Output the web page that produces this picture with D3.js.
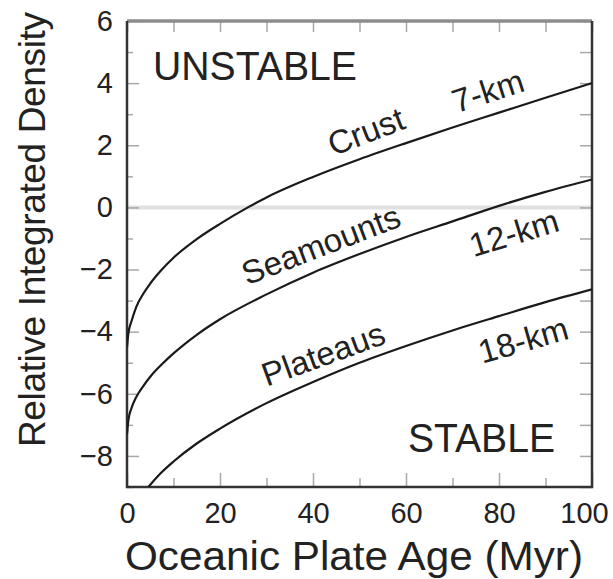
<!DOCTYPE html>
<html>
<head>
<meta charset="utf-8">
<script src="https://cdn.jsdelivr.net/npm/d3@7"></script>
<style>
  html, body { margin: 0; padding: 0; background: #fff; }
  svg { display: block; font-family: "Liberation Sans", Arial, Helvetica, sans-serif; }
</style>
</head>
<body>
<div id="chart"></div>
<script>
// values (age in Myr, relative integrated density)
const crustAge = [0, 0.3, 1, 2, 3.5, 5, 7.5, 10, 15, 20, 26, 30, 40, 50, 60, 70, 80, 90, 100];
const crustDensity = [-4.5, -4.05, -3.65, -3.2, -2.78, -2.45, -2.0, -1.62, -1.02, -0.53, 0.0, 0.32, 0.98, 1.55, 2.07, 2.57, 3.05, 3.53, 4.0];

const seamountAge = [0, 0.3, 1, 2, 3.5, 5, 7.5, 10, 15, 20, 30, 40, 50, 60, 70, 80, 90, 100];
const seamountDensity = [-7.3, -6.85, -6.45, -6.1, -5.75, -5.45, -5.05, -4.7, -4.1, -3.6, -2.8, -2.1, -1.5, -0.95, -0.45, 0.05, 0.5, 0.9];

const plateauAge = [4.6, 5, 7.5, 10, 15, 20, 30, 40, 50, 60, 70, 80, 90, 100];
const plateauDensity = [-9.0, -8.93, -8.52, -8.18, -7.6, -7.12, -6.3, -5.62, -5.0, -4.46, -3.96, -3.5, -3.05, -2.64];

const xMajor = [0, 20, 40, 60, 80, 100];
const xMinor = [10, 30, 50, 70, 90];
const yMajor = [-8, -6, -4, -2, 0, 2, 4, 6];
const yMinor = [-9, -7, -5, -3, -1, 1, 3, 5];

const curveLabels = [
  { text: "Crust", age: 51.4, val: 2.45, angle: -21 },
  { text: "7-km", age: 77.6, val: 3.75, angle: -18 },
  { text: "Seamounts", age: 41.7, val: -1.2, angle: -21 },
  { text: "12-km", age: 83.2, val: -0.82, angle: -17 },
  { text: "Plateaus", age: 42.2, val: -4.72, angle: -20 },
  { text: "18-km", age: 85.2, val: -4.27, angle: -16 }
];

const width = 613, height = 579;
const x = d3.scaleLinear().domain([0, 100]).range([127, 592]);
const y = d3.scaleLinear().domain([-9, 6]).range([487, 21]);

const svg = d3.select("#chart").append("svg")
  .attr("width", width)
  .attr("height", height);

svg.append("defs").append("clipPath").attr("id", "plot")
  .append("rect")
  .attr("x", x(0)).attr("y", y(6))
  .attr("width", x(100) - x(0)).attr("height", y(-9) - y(6));

// zero line
svg.append("line")
  .attr("x1", x(0)).attr("x2", x(100))
  .attr("y1", y(0)).attr("y2", y(0))
  .attr("stroke", "#e0e0e0").attr("stroke-width", 4);

// ticks
const tickColor = "#a8a8a8";
const fmt = d => d < 0 ? "\u2212" + Math.abs(d) : String(d);
function styleAxis(g) {
  g.select(".domain").remove();
  g.selectAll(".tick line").attr("stroke", tickColor).attr("stroke-width", 1.5);
  g.selectAll("text").attr("fill", "#222").attr("font-size", 29);
}

svg.append("g").attr("transform", `translate(0,${y(-9)})`)
  .call(d3.axisBottom(x).tickValues(xMajor).tickSizeInner(-14).tickSizeOuter(0)
    .tickPadding(15).tickFormat(fmt))
  .call(styleAxis)
  .selectAll("text").filter(d => d === 100).attr("dx", -8);
svg.append("g").attr("transform", `translate(0,${y(-9)})`)
  .call(d3.axisBottom(x).tickValues(xMinor).tickSizeInner(-9).tickSizeOuter(0).tickFormat(""))
  .call(styleAxis);
svg.append("g").attr("transform", `translate(0,${y(6)})`)
  .call(d3.axisTop(x).tickValues(xMajor.concat(xMinor)).tickSizeInner(-11).tickSizeOuter(0).tickFormat(""))
  .call(styleAxis);

svg.append("g").attr("transform", `translate(${x(0)},0)`)
  .call(d3.axisLeft(y).tickValues(yMajor).tickSizeInner(-12).tickSizeOuter(0)
    .tickPadding(14).tickFormat(fmt))
  .call(styleAxis);
svg.append("g").attr("transform", `translate(${x(0)},0)`)
  .call(d3.axisLeft(y).tickValues(yMinor).tickSizeInner(-6).tickSizeOuter(0).tickFormat(""))
  .call(styleAxis);
svg.append("g").attr("transform", `translate(${x(100)},0)`)
  .call(d3.axisRight(y).tickValues(yMajor.concat(yMinor)).tickSizeInner(-12).tickSizeOuter(0).tickFormat(""))
  .call(styleAxis);

// frame
svg.append("line").attr("x1", x(0)).attr("x2", x(100)).attr("y1", y(6)).attr("y2", y(6))
  .attr("stroke", "#8c8c8c").attr("stroke-width", 3.5);
svg.append("path")
  .attr("d", `M${x(0)},${y(6)}V${y(-9)}H${x(100)}V${y(6)}`)
  .attr("fill", "none").attr("stroke", "#333").attr("stroke-width", 2.5);

// curves
const line = d3.line().x(d => x(d[0])).y(d => y(d[1])).curve(d3.curveMonotoneX);
const series = [
  d3.zip(crustAge, crustDensity),
  d3.zip(seamountAge, seamountDensity),
  d3.zip(plateauAge, plateauDensity)
];
svg.append("g").attr("clip-path", "url(#plot)")
  .selectAll("path").data(series).join("path")
  .attr("d", line)
  .attr("fill", "none").attr("stroke", "#1a1a1a").attr("stroke-width", 2.2);

// labels on curves
svg.append("g").selectAll("text").data(curveLabels).join("text")
  .attr("transform", d => `translate(${x(d.age)},${y(d.val)}) rotate(${d.angle})`)
  .attr("text-anchor", "middle")
  .attr("dy", "0.35em")
  .attr("font-size", 33)
  .attr("fill", "#222")
  .text(d => d.text);

// region labels
svg.append("text").attr("x", 153).attr("y", 80)
  .attr("font-size", 40).attr("fill", "#222")
  .attr("textLength", 204).attr("lengthAdjust", "spacingAndGlyphs")
  .text("UNSTABLE");
svg.append("text").attr("x", 408).attr("y", 452)
  .attr("font-size", 40).attr("fill", "#222")
  .attr("textLength", 147).attr("lengthAdjust", "spacingAndGlyphs")
  .text("STABLE");

// axis titles
svg.append("text").attr("x", 125).attr("y", 570)
  .attr("font-size", 40).attr("fill", "#222")
  .attr("textLength", 458).attr("lengthAdjust", "spacingAndGlyphs")
  .text("Oceanic Plate Age (Myr)");
svg.append("text")
  .attr("transform", "translate(45,447) rotate(-90)")
  .attr("font-size", 37).attr("fill", "#222")
  .attr("textLength", 435).attr("lengthAdjust", "spacing")
  .text("Relative Integrated Density");
</script>
</body>
</html>
